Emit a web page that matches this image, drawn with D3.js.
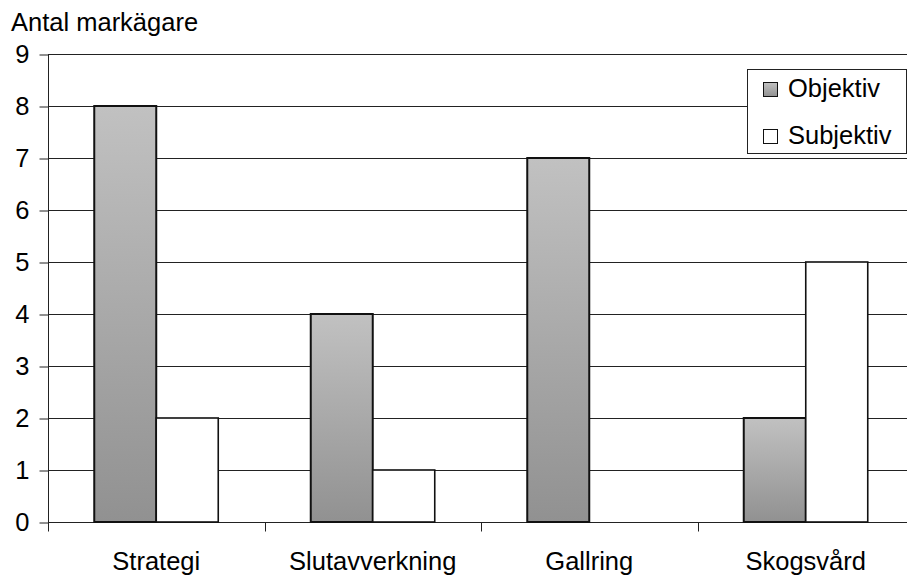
<!DOCTYPE html>
<html>
<head>
<meta charset="utf-8">
<script src="https://cdn.jsdelivr.net/npm/d3@7"></script>
<style>
  html, body { margin: 0; padding: 0; background: #fff; }
  svg { display: block; }
  text { font-family: "Liberation Sans", Arial, sans-serif; fill: #000; }
</style>
</head>
<body>
<svg id="chart" width="907" height="577"></svg>
<script>
// Chart data
const categories = ["Strategi", "Slutavverkning", "Gallring", "Skogsvård"];
const seriesNames = ["Objektiv", "Subjektiv"];
const objektiv = [8, 4, 7, 2];
const subjektiv = [2, 1, 0, 5];
const yTicks = [0, 1, 2, 3, 4, 5, 6, 7, 8, 9];
const yTitle = "Antal markägare";

const seriesValues = [objektiv, subjektiv];

(function draw() {
  const svg = d3.select("#chart");
  const fontSize = "25.5px";

  // Plot geometry
  const plotLeft = 48, plotBottom = 522, plotTop = 54, bandW = 216.5;
  const plotRight = plotLeft + bandW * categories.length;

  const x = d3.scaleBand().domain(categories).range([plotLeft, plotRight]).padding(0);
  const xs = d3.scaleBand().domain(seriesNames).range([0, bandW])
    .paddingInner(0).paddingOuter(0.746);
  const y = d3.scaleLinear().domain([0, 9]).range([plotBottom, plotTop]);

  // Vertical gray gradient for the "Objektiv" bars
  const defs = svg.append("defs");
  const grad = defs.append("linearGradient")
    .attr("id", "objGrad").attr("x1", 0).attr("y1", 0).attr("x2", 0).attr("y2", 1);
  grad.append("stop").attr("offset", "0%").attr("stop-color", "#c1c1c1");
  grad.append("stop").attr("offset", "100%").attr("stop-color", "#919191");

  const fills = { "Objektiv": "url(#objGrad)", "Subjektiv": "#ffffff" };

  // Horizontal gridlines
  svg.append("g")
    .selectAll("line")
    .data(yTicks.filter(d => d > 0))
    .join("line")
    .attr("x1", plotLeft).attr("x2", 907)
    .attr("y1", d => Math.round(y(d)) + 0.5).attr("y2", d => Math.round(y(d)) + 0.5)
    .attr("stroke", "#222").attr("stroke-width", 1);

  // Y axis
  const yAxis = svg.append("g")
    .attr("transform", `translate(${plotLeft + 0.5},0.5)`)
    .call(d3.axisLeft(y).tickValues(yTicks).tickSize(9).tickPadding(10).tickFormat(d3.format("d")));
  yAxis.select(".domain").attr("stroke", "#222").attr("d", `M0,${plotTop}V${plotBottom + 8}`);
  yAxis.selectAll(".tick line").attr("stroke", "#222");
  yAxis.selectAll(".tick text")
    .style("font-family", '"Liberation Sans", Arial, sans-serif')
    .style("font-size", fontSize).attr("fill", "#000");

  // X axis
  const xAxis = svg.append("g")
    .attr("transform", `translate(0,${plotBottom + 0.5})`)
    .call(d3.axisBottom(x).tickSize(0).tickPadding(0));
  xAxis.select(".domain").attr("stroke", "#222").attr("d", `M${plotLeft},0H907`);
  xAxis.selectAll(".tick text").remove();
  // category separators
  xAxis.selectAll("line.sep")
    .data(d3.range(categories.length + 1))
    .join("line").attr("class", "sep")
    .attr("x1", i => Math.round(plotLeft + i * bandW) + 0.5)
    .attr("x2", i => Math.round(plotLeft + i * bandW) + 0.5)
    .attr("y1", 0).attr("y2", 9)
    .attr("stroke", "#222");
  // category labels
  svg.append("g")
    .selectAll("text")
    .data(categories)
    .join("text")
    .attr("x", d => x(d) + x.bandwidth() / 2)
    .attr("y", 570)
    .attr("text-anchor", "middle")
    .style("font-size", fontSize)
    .text(d => d);

  // Bars
  const groups = svg.append("g")
    .selectAll("g")
    .data(categories)
    .join("g")
    .attr("transform", d => `translate(${x(d)},0)`);

  groups.selectAll("rect")
    .data((d, i) => seriesNames.map((s, j) => ({ s, v: seriesValues[j][i] })).filter(e => e.v > 0))
    .join("rect")
    .attr("x", d => xs(d.s))
    .attr("y", d => y(d.v))
    .attr("width", xs.bandwidth())
    .attr("height", d => y(0) - y(d.v))
    .attr("fill", d => fills[d.s])
    .attr("stroke", "#111")
    .attr("stroke-width", d => d.s === "Objektiv" ? 2 : 1.6);

  // Y title
  svg.append("text")
    .attr("x", 11).attr("y", 31)
    .style("font-size", fontSize)
    .text(yTitle);

  // Legend
  const lg = svg.append("g");
  lg.append("rect")
    .attr("x", 747.5).attr("y", 69.5).attr("width", 159).attr("height", 84)
    .attr("fill", "#fff").attr("stroke", "#222").attr("stroke-width", 1);
  const items = lg.selectAll("g.item")
    .data(seriesNames)
    .join("g").attr("class", "item")
    .attr("transform", (d, i) => `translate(0,${i * 47})`);
  items.append("rect")
    .attr("x", 763.5).attr("y", 82.5).attr("width", 14).attr("height", 14)
    .attr("fill", d => fills[d]).attr("stroke", "#111").attr("stroke-width", 1);
  items.append("text")
    .attr("x", 788).attr("y", 97)
    .style("font-size", fontSize)
    .text(d => d);
})();
</script>
</body>
</html>
